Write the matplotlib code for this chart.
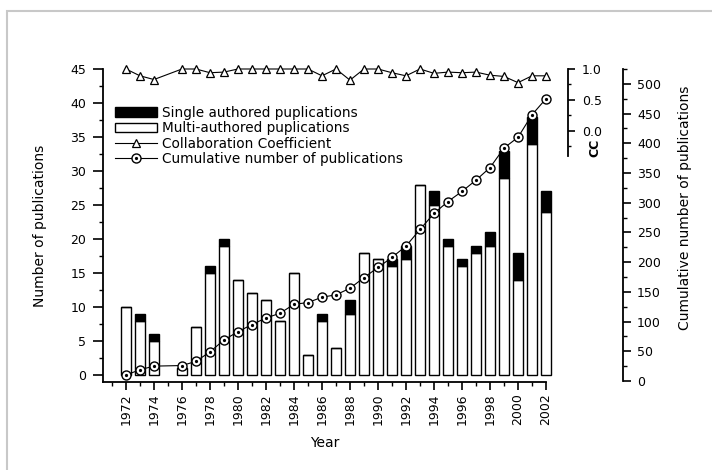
import numpy as np
import matplotlib
matplotlib.use("Agg")
import matplotlib.pyplot as plt
from matplotlib.patches import Rectangle, Patch
from matplotlib.legend_handler import HandlerTuple
from matplotlib.ticker import MultipleLocator, FormatStrFormatter

plt.rcParams['font.family'] = 'DejaVu Sans'

# publications per year
years = list(range(1972, 2003))
multi = [10, 8, 5, 0, 1, 7, 15, 19, 14, 12, 11, 8, 15, 3, 8, 4, 9, 18, 17, 16,
         17, 28, 25, 19, 16, 18, 19, 29, 14, 34, 24]
single = [0, 1, 1, 0, 0, 0, 1, 1, 0, 0, 0, 0, 0, 0, 1, 0, 2, 0, 0, 1,
          2, 0, 2, 1, 1, 1, 2, 4, 4, 4, 3]
# collaboration coefficient and running total (no papers in 1975)
cc = [1.0, 0.89, 0.83, None, 1.0, 1.0, 0.94, 0.95, 1.0, 1.0, 1.0, 1.0, 1.0, 1.0,
      0.89, 1.0, 0.82, 1.0, 1.0, 0.94, 0.89, 1.0, 0.93, 0.95, 0.94, 0.95, 0.9,
      0.88, 0.78, 0.89, 0.89]
cumulative = [10, 19, 25, None, 26, 33, 49, 69, 83, 95, 106, 114, 129, 132, 141,
              145, 156, 174, 191, 208, 227, 255, 282, 302, 319, 338, 359, 392,
              410, 448, 475]

W, H = 712, 470
fig = plt.figure(figsize=(W / 100, H / 100), dpi=100)
ax = fig.add_axes([103 / W, 1 - 382 / H, (546 - 103) / W, (382 - 69) / H])

x = np.array(years)
m = np.array(multi)
s = np.array(single)
keep = (m + s) > 0
bw = 0.78
ax.bar(x[keep], m[keep], width=bw, color='white', edgecolor='black', lw=1, clip_on=False)
ax.bar(x[keep], s[keep], bottom=m[keep], width=bw, color='black', edgecolor='black',
       lw=1, clip_on=False)

ax.set_xlim(1970.36, 2002)
ax.set_ylim(-1.03, 45)
for side in ['top', 'right']:
    ax.spines[side].set_visible(False)
for side in ['left', 'bottom']:
    ax.spines[side].set_linewidth(1.3)
ax.set_xticks(range(1972, 2003, 2))
ax.xaxis.set_minor_locator(MultipleLocator(1))
ax.set_yticks(range(0, 46, 5))
ax.yaxis.set_minor_locator(MultipleLocator(2.5))
ax.tick_params(axis='x', which='major', length=6, width=1.2, pad=2, labelsize=9,
               labelrotation=90)
ax.tick_params(axis='y', which='major', length=7, width=1.2, pad=5, labelsize=9)
ax.tick_params(which='minor', length=3, width=1)

# cumulative number on its own right axis
lx = [yr for yr, v in zip(years, cumulative) if v is not None]
lc = [v for v in cumulative if v is not None]
ax2 = ax.twinx()
cum_line, = ax2.plot(lx, lc, '-', color='black', lw=0.8, marker='o', ms=6.5,
                     mfc='white', mec='black', mew=1, clip_on=False)
cum_dot, = ax2.plot(lx, lc, 'o', ms=1.3, color='black', clip_on=False)
ax2.set_ylim(-1.7, 525)
for side in ['top', 'left', 'bottom']:
    ax2.spines[side].set_visible(False)
ax2.spines['right'].set_position(('axes', (623 - 103) / 443))
ax2.spines['right'].set_bounds(0, 525)
ax2.spines['right'].set_linewidth(1.3)
ax2.set_yticks(range(0, 501, 50))
ax2.yaxis.set_minor_locator(MultipleLocator(25))
ax2.tick_params(which='major', length=6, width=1.2, pad=4, labelsize=9)
ax2.tick_params(which='minor', length=3, width=1)

# collaboration coefficient, short axis at the top
cx = [yr for yr, v in zip(years, cc) if v is not None]
cv = [v for v in cc if v is not None]
ax3 = ax.twinx()
cc_line, = ax3.plot(cx, cv, '-', color='black', lw=0.8, marker='^', ms=5.5,
                    mfc='white', mec='black', mew=0.9, clip_on=False)
ax3.set_ylim(-4.05, 1.0)
for side in ['top', 'left', 'bottom']:
    ax3.spines[side].set_visible(False)
ax3.spines['right'].set_position(('axes', (568 - 103) / 443))
ax3.spines['right'].set_bounds(-0.4, 1.0)
ax3.spines['right'].set_linewidth(1.3)
ax3.set_yticks([0, 0.5, 1.0])
ax3.yaxis.set_major_formatter(FormatStrFormatter('%.1f'))
ax3.set_yticks([-0.25, 0.25, 0.75], minor=True)
ax3.tick_params(which='major', length=5, width=1.2, pad=5, labelsize=9)
ax3.tick_params(which='minor', length=2.5, width=1)

handles = [Patch(facecolor='black', edgecolor='black'),
           Patch(facecolor='white', edgecolor='black'),
           cc_line, (cum_line, cum_dot)]
labels = ['Single authored puplications', 'Multi-authored puplications',
          'Collaboration Coefficient', 'Cumulative number of publications']
fig.legend(handles, labels, loc='upper left', bbox_to_anchor=(115 / W, 1 - 106 / H),
           frameon=False, fontsize=9.8, handlelength=3.1, handletextpad=0.35,
           labelspacing=0.1, borderpad=0, borderaxespad=0,
           handler_map={tuple: HandlerTuple(ndivide=1, pad=0)})

fig.text(40 / W, 1 - 226 / H, 'Number of publications', rotation=90,
         ha='center', va='center', fontsize=10)
fig.text(325 / W, 1 - 443 / H, 'Year', ha='center', va='center', fontsize=10)
fig.text(595 / W, 1 - 148 / H, 'CC', rotation=90, ha='center', va='center',
         fontsize=9, fontweight='bold')
fig.text(685 / W, 1 - 208 / H, 'Cumulative number of publications', rotation=90,
         ha='center', va='center', fontsize=10)

# light frame around the figure
fig.patches.append(Rectangle((7 / W, -0.1), 1.2, (H - 11) / H + 0.1, fill=False,
                             edgecolor='#c8c8c8', lw=1.5, transform=fig.transFigure))

fig.savefig('out.png', dpi=100)
